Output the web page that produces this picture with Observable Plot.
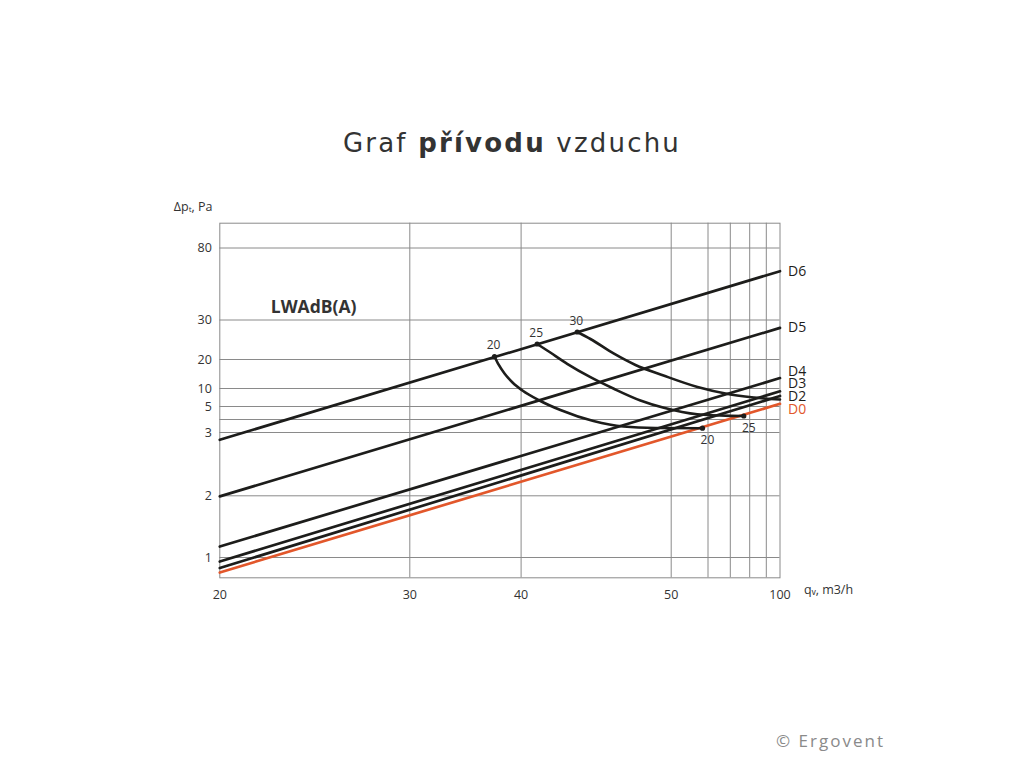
<!DOCTYPE html>
<html><head><meta charset="utf-8">
<script src="https://cdn.jsdelivr.net/npm/d3@7"></script>
<script src="https://cdn.jsdelivr.net/npm/@observablehq/plot@0.6"></script>
<style>
html,body{margin:0;padding:0;background:#fff;}
#wrap{position:relative;width:1024px;height:768px;overflow:hidden;font-family:"Open Sans",sans-serif;}
#chart{position:absolute;left:0;top:0;}
#title{position:absolute;left:0;width:1024px;top:130px;text-align:center;font-family:"DejaVu Sans",sans-serif;font-size:26px;line-height:26px;color:#333;letter-spacing:2.2px;}
#title b{font-weight:700;}
#credit{position:absolute;left:776px;top:732px;font-size:17px;line-height:17px;color:#8a8a8a;letter-spacing:2px;}
</style></head>
<body>
<div id="wrap"><div id="chart"></div><div id="title">Graf <b>přívodu</b> vzduchu</div><div id="credit">© Ergovent</div></div>
<script>
// ---- data ----
const seriesNames = ["D6", "D5", "D4", "D3", "D2", "D0"];
const qRange = [20, 100];
const dpAtQ20 = [2.885, 1.99, 1.178, 0.935, 0.83, 0.757];
const dpAtQ100 = [63.9, 28.0, 13.6, 9.22, 7.92, 5.75];
const labelDp = [63.9, 28.0, 16.0, 11.6, 7.9, 4.8];

const xTickLabels = [20, 30, 40, 50, 100];
const xGridValues = [30, 40, 50, 60, 70, 80, 90];
const yTickLabels = [1, 2, 3, 5, 10, 20, 30, 80];
const yGridValues = [1, 2, 3, 4, 5, 10, 20, 30, 80];

const noiseLevels = ["20", "25", "30"];
const curve20Q = [37.61, 37.97, 38.51, 39.23, 40.09, 41.16, 42.62, 44.82, 46.82, 48.95, 58.5];
const curve20Dp = [20.76, 18.28, 15.17, 12.07, 9.44, 6.81, 4.73, 3.88, 3.46, 3.35, 3.33];
const curve25Q = [41.07, 41.74, 43.07, 44.62, 46.18, 47.95, 49.51, 57.07, 70.1, 76.96];
const curve25Dp = [23.92, 22.28, 18.52, 13.90, 9.92, 6.67, 4.9, 4.4, 4.28, 4.27];
const curve30Q = [43.74, 44.62, 46.16, 47.62, 49.49, 57.15, 70.1, 100];
const curve30Dp = [26.96, 25.19, 21.52, 18.10, 14.48, 10.52, 8.33, 6.94];
const curveEndLabelled = [true, true, false];

// ---- tables ----
const curveQ = [curve20Q, curve25Q, curve30Q];
const curveDp = [curve20Dp, curve25Dp, curve30Dp];
const lines = seriesNames.flatMap((s, i) => [
  {series: s, q: qRange[0], dp: dpAtQ20[i]},
  {series: s, q: qRange[1], dp: dpAtQ100[i]}
]);
const lineLabels = seriesNames.map((s, i) => ({series: s, q: qRange[1], dp: labelDp[i]}));
const curves = noiseLevels.flatMap((lvl, k) => curveQ[k].map((q, j) => ({level: lvl, q, dp: curveDp[k][j]})));
const starts = noiseLevels.map((lvl, k) => ({level: lvl, q: curveQ[k][0], dp: curveDp[k][0]}));
const ends = noiseLevels.map((lvl, k) => ({level: lvl, q: curveQ[k].at(-1), dp: curveDp[k].at(-1)}))
  .filter((d, k) => curveEndLabelled[k]);

const black = "#1d1d1b", orange = "#e2572b", grid = "#8a8a8a", ink = "#333";
const font = "Open Sans, sans-serif";

const chart = Plot.plot({
  width: 1024,
  height: 768,
  marginLeft: 219.3,
  marginRight: 244.5,
  marginTop: 222.7,
  marginBottom: 190.7,
  style: {fontFamily: font, background: "transparent", color: ink, overflow: "visible"},
  x: {type: "linear", domain: [20, 30, 40, 50, 60, 70, 80, 90, 100],
      range: [219.3, 409.3, 520.6, 670.7, 707.5, 729.8, 749.2, 765.8, 779.5], axis: null, label: null},
  y: {type: "linear", domain: [0.671, 1, 2, 3, 4, 5, 10, 20, 30, 80, 97.2],
      range: [577.3, 557, 495.3, 432, 419, 406, 388, 359, 319.5, 247.5, 222.7], axis: null, label: null},
  color: {type: "ordinal", domain: seriesNames, range: [black, black, black, black, black, orange]},
  marks: [
    Plot.gridX(xGridValues, {stroke: grid, strokeOpacity: 1, strokeWidth: 1}),
    Plot.gridY(yGridValues, {stroke: grid, strokeOpacity: 1, strokeWidth: 1}),
    Plot.frame({stroke: grid, strokeWidth: 1}),
    Plot.axisX(xTickLabels, {tickSize: 0, tickPadding: 12, fontSize: 12.5, fill: ink, label: null, tickFormat: d => String(d)}),
    Plot.axisY(yTickLabels, {tickSize: 0, tickPadding: 8, fontSize: 12.5, fill: ink, label: null, tickFormat: d => String(d)}),
    Plot.text(["Δpₜ, Pa"], {frameAnchor: "top-left", dx: -46, dy: -21, textAnchor: "start", fontSize: 12.5, fill: ink}),
    Plot.text(["qᵥ, m3/h"], {frameAnchor: "bottom-right", dx: 24, dy: 16, textAnchor: "start", fontSize: 12.5, fill: ink}),
    Plot.text(["LWAdB(A)"], {frameAnchor: "top-left", dx: 51, dy: 77, textAnchor: "start", fontSize: 17.5, fontWeight: "bold", fill: ink}),
    Plot.line(lines, {x: "q", y: "dp", z: "series", stroke: "series", strokeWidth: 2.7}),
    Plot.line(curves, {x: "q", y: "dp", z: "level", stroke: black, strokeWidth: 2.6, curve: "monotone-x"}),
    Plot.dot(starts, {x: "q", y: "dp", r: 2.6, fill: black}),
    Plot.dot(ends, {x: "q", y: "dp", r: 2.6, fill: black}),
    Plot.text(starts, {x: "q", y: "dp", text: "level", dy: -11, dx: -1, fontSize: 12, fill: ink}),
    Plot.text(ends, {x: "q", y: "dp", text: "level", dy: 12, dx: 5, fontSize: 12, fill: ink}),
    Plot.text(lineLabels, {x: "q", y: "dp", text: "series", fill: "series", textAnchor: "start", dx: 8, fontSize: 14})
  ]
});
document.getElementById("chart").appendChild(chart);
</script>
</body></html>
